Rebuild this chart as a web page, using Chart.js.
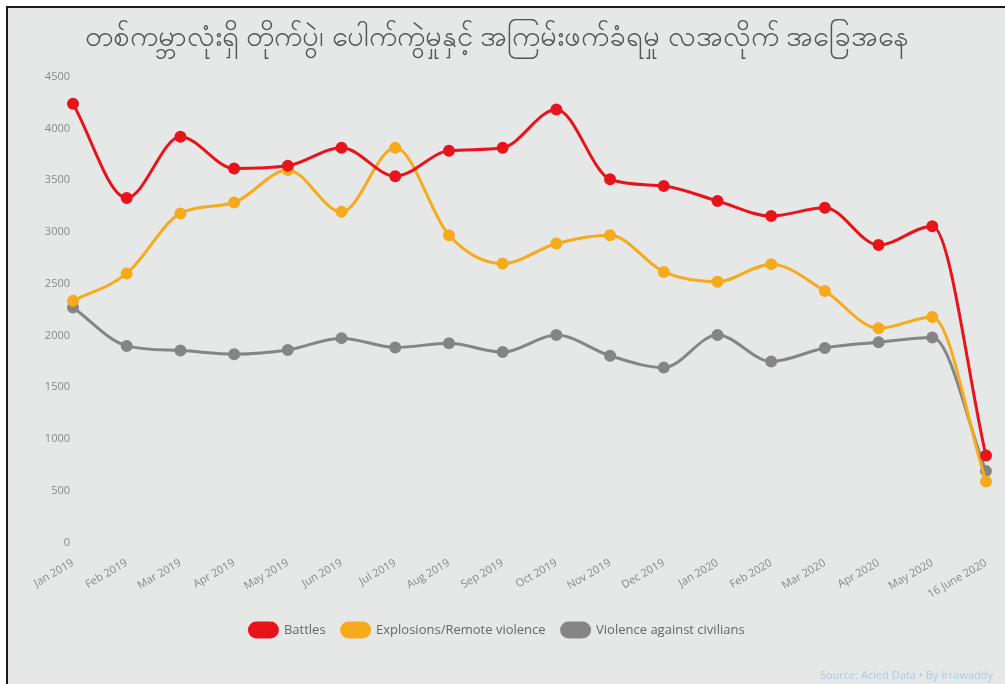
<!DOCTYPE html>
<html>
<head>
<meta charset="utf-8">
<script src="https://cdn.jsdelivr.net/npm/chart.js@4.4.1/dist/chart.umd.min.js"></script>
<style>
  html, body { margin: 0; padding: 0; background: #ffffff; }
  #frame { position: absolute; left: 6px; top: 6px; width: 999px; height: 678px;
           border-left: 2px solid #1a1a1a; border-top: 2px solid #1a1a1a; background: #e6e8e7; }
  #wrap { position: absolute; left: 0; top: 0; width: 997px; height: 676px; }
  #src { position: absolute; right: 14px; bottom: 4px; font-family: "Open Sans", sans-serif;
         font-size: 11px; color: #a9c9ea; }
</style>
</head>
<body>
<div id="frame">
  <div id="wrap"><canvas id="c" width="997" height="676"></canvas></div>
  <div id="src">Source: Acled Data • By Irrawaddy</div>
</div>
<script>
const categories = ["Jan 2019","Feb 2019","Mar 2019","Apr 2019","May 2019","Jun 2019","Jul 2019","Aug 2019","Sep 2019","Oct 2019","Nov 2019","Dec 2019","Jan 2020","Feb 2020","Mar 2020","Apr 2020","May 2020","16 June 2020"];
const battles = [4240,3330,3920,3615,3640,3815,3540,3785,3815,4185,3510,3445,3300,3155,3235,2875,3055,840];
const explosions = [2335,2600,3180,3285,3600,3195,3815,2970,2695,2890,2970,2615,2520,2690,2430,2070,2180,590];
const violence = [2270,1900,1855,1820,1860,1975,1885,1925,1840,2005,1805,1690,2005,1750,1880,1935,1980,690];
const yTicks = [0,500,1000,1500,2000,2500,3000,3500,4000,4500];
const seriesNames = ["Battles","Explosions/Remote violence","Violence against civilians"];
const title = "တစ်ကမ္ဘာလုံးရှိ တိုက်ပွဲ၊ ပေါက်ကွဲမှုနှင့် အကြမ်းဖက်ခံရမှု လအလိုက် အခြေအနေ";

const colors = ["#e8141b", "#f6aa1c", "#858585"];
function ds(label, data, color) {
  return { label, data, borderColor: color, backgroundColor: color, pointBackgroundColor: color,
           pointBorderColor: color, borderWidth: 3, pointRadius: 4.5, tension: 0.4, cubicInterpolationMode: 'monotone', fill: false };
}
Chart.defaults.font.family = '"Open Sans", "Noto Sans", sans-serif';
new Chart(document.getElementById('c'), {
  type: 'line',
  data: {
    labels: categories,
    datasets: [ds(seriesNames[0], battles, colors[0]), ds(seriesNames[1], explosions, colors[1]), ds(seriesNames[2], violence, colors[2])]
  },
  options: {
    responsive: false,
    animation: false,
    layout: { padding: { left: 0, right: 19, top: 0, bottom: 37 } },
    plugins: {
      title: { display: true, text: title, color: '#555', font: { size: 29, weight: 'normal', family: '"Noto Sans", sans-serif' }, padding: { top: 12, bottom: 22 } },
      legend: { position: 'bottom', labels: { color: '#666', font: { size: 13 }, boxWidth: 28, boxHeight: 14, useBorderRadius: true, borderRadius: 7, padding: 16 } },
      tooltip: { enabled: false }
    },
    scales: {
      x: {
        offset: false,
        grid: { display: false },
        border: { display: false },
        ticks: { color: '#888', font: { size: 11 }, minRotation: 30, maxRotation: 30, padding: 6, autoSkip: false }
      },
      y: {
        min: 0, max: 4500,
        afterFit: (s) => { s.width = 65; },
        afterBuildTicks: (s) => { s.ticks = yTicks.map(v => ({ value: v })); },
        grid: { display: false },
        border: { display: false },
        ticks: { color: '#888', font: { size: 11 }, padding: -5, callback: (v) => String(v) }
      }
    }
  }
});
</script>
</body>
</html>
